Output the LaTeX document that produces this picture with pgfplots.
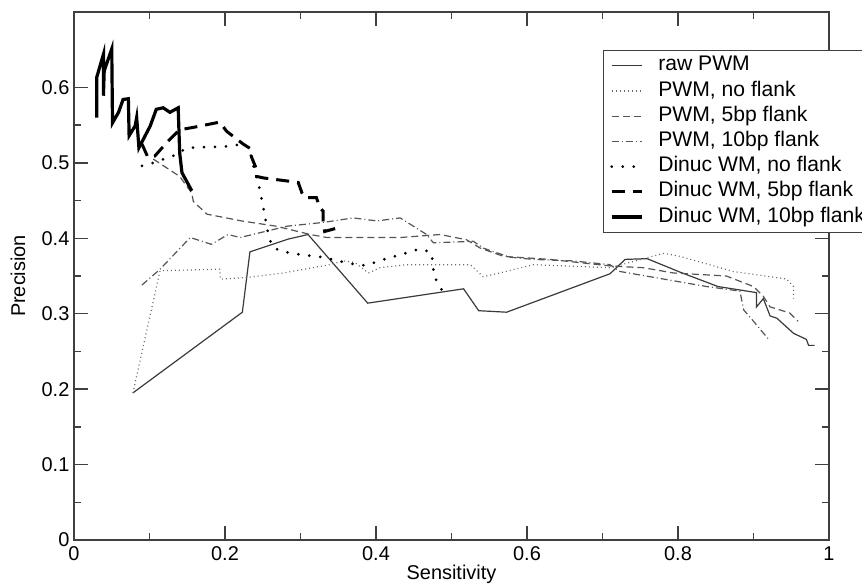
\documentclass[border=0pt]{standalone}
\usepackage{fontspec}
\setmainfont{Liberation Sans}
\usepackage{pgfplots}
\pgfplotsset{compat=1.18}
\usetikzlibrary{calc}

\definecolor{framegray}{HTML}{404040}
\definecolor{thingray}{HTML}{3A3A3A}
\definecolor{dotgray}{HTML}{6A6A6A}
\definecolor{dashgray}{HTML}{555555}

\begin{document}
\begin{tikzpicture}
\begin{axis}[
  scale only axis,
  width=377.5bp, height=264bp,
  xmin=0, xmax=1, ymin=0, ymax=0.7,
  xtick={0,0.2,0.4,0.6,0.8,1},
  ytick={0,0.1,0.2,0.3,0.4,0.5,0.6},
  minor x tick num=1, minor y tick num=1,
  tick align=inside,
  major tick length=7bp, minor tick length=3.5bp,
  axis line style={framegray, line width=0.75bp},
  every tick/.style={framegray, line width=0.75bp},
  /pgf/number format/assume math mode=true,
  tick label style={font=\fontsize{10}{12}\selectfont},
  yticklabel style={xshift=1.2bp},
  xlabel={Sensitivity}, ylabel={Precision},
  label style={font=\fontsize{10}{12}\selectfont},
  xlabel style={at={(axis description cs:0.5,-0.066)}, anchor=center},
  ylabel style={at={(axis description cs:-0.074,0.5)}, anchor=center},
  legend cell align=left,
  legend image code/.code={\draw[#1] (0bp,0bp) -- (15bp,0bp);},
  legend style={at={(rel axis cs:0.700,0.928)}, anchor=north west,
    draw=framegray, line width=0.6bp, fill=white,
    font=\fontsize{10.6}{12}\selectfont,
    inner xsep=3.5bp, inner ysep=1.5bp, row sep=0.4bp, column sep=6.5bp,
    nodes={inner sep=1bp, text height=7.6bp, text depth=2.6bp}},
]

% raw PWM
\addplot[thingray, line width=0.6bp] coordinates {
(0.078,0.195)(0.223,0.302)(0.233,0.382)(0.284,0.399)(0.310,0.405)(0.389,0.314)
(0.516,0.333)(0.536,0.304)(0.573,0.302)(0.710,0.353)(0.730,0.372)(0.759,0.373)
(0.803,0.355)(0.853,0.336)(0.904,0.328)(0.904,0.309)(0.913,0.320)(0.922,0.297)
(0.931,0.294)(0.953,0.274)(0.970,0.266)(0.973,0.258)(0.981,0.258)
};
% PWM, no flank
\addplot[dotgray, line width=0.6bp, dash pattern=on 0.5bp off 1.5bp] coordinates {
(0.078,0.195)(0.114,0.357)(0.193,0.359)(0.194,0.346)(0.229,0.348)(0.277,0.354)
(0.339,0.365)(0.357,0.370)(0.372,0.368)(0.390,0.354)(0.405,0.361)(0.441,0.365)
(0.525,0.365)(0.542,0.349)(0.564,0.354)(0.608,0.365)(0.710,0.361)(0.781,0.380)
(0.803,0.376)(0.873,0.356)(0.944,0.346)(0.953,0.336)(0.953,0.320)
};
% PWM, 5bp flank
\addplot[dashgray, line width=0.6bp, dash pattern=on 3.5bp off 2bp] coordinates {
(0.105,0.505)(0.140,0.482)(0.156,0.460)(0.158,0.449)(0.176,0.432)(0.222,0.423)
(0.268,0.416)(0.313,0.405)(0.335,0.401)(0.432,0.401)(0.485,0.405)(0.520,0.398)
(0.538,0.387)(0.569,0.376)(0.630,0.372)(0.714,0.363)(0.754,0.361)(0.794,0.354)
(0.864,0.350)(0.900,0.336)(0.913,0.323)(0.922,0.309)(0.948,0.301)(0.959,0.290)
};
% PWM, 10bp flank
\addplot[dashgray, line width=0.6bp, dash pattern=on 3.5bp off 1.5bp on 0.5bp off 1.5bp] coordinates {
(0.090,0.338)(0.114,0.359)(0.154,0.401)(0.182,0.392)(0.204,0.405)(0.220,0.401)
(0.282,0.416)(0.330,0.421)(0.370,0.427)(0.401,0.423)(0.432,0.427)(0.467,0.405)
(0.476,0.394)(0.529,0.396)(0.542,0.387)(0.577,0.375)(0.608,0.372)(0.661,0.370)
(0.710,0.365)(0.723,0.356)(0.838,0.336)(0.882,0.330)(0.887,0.305)(0.900,0.290)
(0.920,0.266)
};
% Dinuc WM, no flank
\addplot[black, line width=1.5bp, line cap=round, dash pattern=on 0bp off 5.5bp] coordinates {
(0.090,0.496)(0.105,0.500)(0.136,0.511)(0.149,0.520)(0.207,0.522)(0.222,0.525)
(0.233,0.520)(0.235,0.505)(0.244,0.474)(0.249,0.449)(0.253,0.429)(0.257,0.407)
(0.262,0.390)(0.273,0.383)(0.302,0.378)(0.330,0.375)(0.359,0.368)(0.374,0.365)
(0.388,0.364)(0.403,0.370)(0.432,0.378)(0.458,0.386)(0.472,0.382)(0.476,0.367)
(0.476,0.352)(0.486,0.333)(0.494,0.324)
};
% Dinuc WM, 5bp flank
\addplot[black, line width=1.5bp, dash pattern=on 6.5bp off 4bp] coordinates {
(0.090,0.525)(0.098,0.507)(0.107,0.509)(0.123,0.527)(0.140,0.544)(0.158,0.547)
(0.193,0.554)(0.202,0.542)(0.224,0.525)(0.235,0.518)(0.235,0.508)(0.242,0.491)
(0.242,0.482)(0.251,0.480)(0.282,0.476)(0.297,0.474)(0.302,0.460)(0.306,0.454)
(0.321,0.454)(0.326,0.440)(0.330,0.436)(0.330,0.421)(0.332,0.409)(0.350,0.414)
};
% Dinuc WM, 10bp flank
\addplot[black, line width=1.6bp] coordinates {
(0.030,0.560)(0.030,0.613)(0.039,0.644)(0.039,0.589)(0.040,0.622)(0.050,0.651)
(0.051,0.553)(0.059,0.567)(0.065,0.584)(0.072,0.585)(0.073,0.536)(0.081,0.549)
(0.083,0.560)(0.086,0.520)(0.101,0.549)(0.109,0.571)(0.118,0.573)(0.127,0.567)
(0.138,0.573)(0.140,0.513)(0.143,0.487)(0.156,0.463)
};

\legend{raw PWM, {PWM, no flank}, {PWM, 5bp flank}, {PWM, 10bp flank},
  {Dinuc WM, no flank}, {Dinuc WM, 5bp flank}, {Dinuc WM, 10bp flank}}

\coordinate (sw) at (rel axis cs:0,0);
\coordinate (ne) at (rel axis cs:1,1);
\end{axis}
\pgfresetboundingbox
\path ($(sw)+(-37bp,-23.5bp)$) rectangle ($(ne)+(16.5bp,6bp)$);
\end{tikzpicture}
\end{document}
